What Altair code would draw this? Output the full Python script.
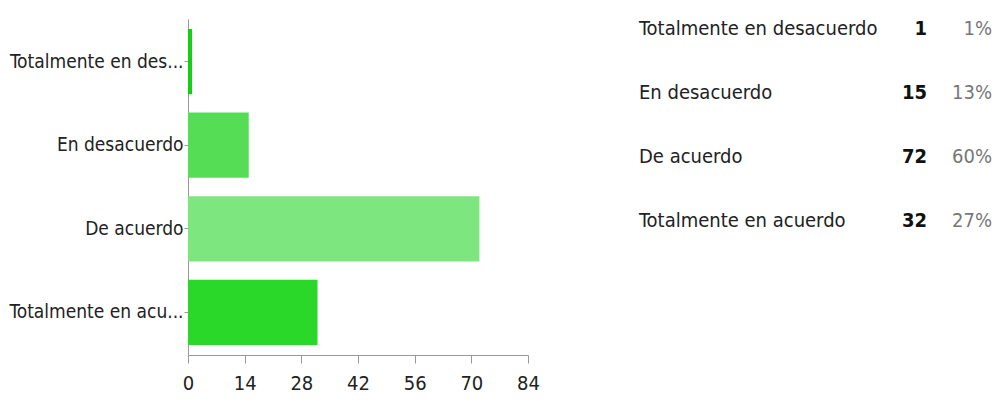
import altair as alt
import pandas as pd

categories = ["Totalmente en desacuerdo", "En desacuerdo", "De acuerdo", "Totalmente en acuerdo"]
counts = [1, 15, 72, 32]
percents = ["1%", "13%", "60%", "27%"]
colors = ["#14cf14", "#55de55", "#7ee67e", "#2ad82a"]
x_ticks = [0, 14, 28, 42, 56, 70, 84]

df = pd.DataFrame({"cat": categories, "n": counts, "pct": percents})

FONT = "Liberation Sans Narrow, Arial Narrow, DejaVu Sans Condensed, sans-serif"

bars = alt.Chart(df).mark_bar().encode(
    y=alt.Y("cat:N", sort=categories, title=None,
            scale=alt.Scale(paddingInner=0.22, paddingOuter=0.12),
            axis=alt.Axis(labelExpr="length(datum.label) > 17 ? slice(datum.label, 0, 17) + '...' : datum.label",
                          labelFont=FONT, labelFontSize=19, labelColor="#222222",
                          labelLimit=400, tickSize=4, tickColor="#999999",
                          domainColor="#999999", labelPadding=1,
                          minExtent=175, maxExtent=175)),
    x=alt.X("n:Q", title=None,
            scale=alt.Scale(domain=[0, 84], nice=False),
            axis=alt.Axis(values=x_ticks, grid=False, labelFont=FONT, labelFontSize=20,
                          labelColor="#222222", tickSize=8, tickColor="#999999",
                          domainColor="#999999", labelPadding=10, labelFlush=False)),
    color=alt.Color("cat:N", sort=categories, legend=None,
                    scale=alt.Scale(domain=categories, range=colors)),
).properties(width=340, height=336)

ysc = alt.Scale(type="point", domain=categories, range=[10, 202], padding=0)
base = alt.Chart(df).encode(y=alt.Y("cat:N", scale=ysc, axis=None))
lab = base.mark_text(align="left", baseline="middle", font=FONT, fontSize=20,
                     color="#222222").encode(x=alt.value(0), text="cat:N")
num = base.mark_text(align="right", baseline="middle", font=FONT, fontSize=20,
                     fontWeight="bold", color="#111111").encode(x=alt.value(288), text="n:Q")
pct = base.mark_text(align="right", baseline="middle", font=FONT, fontSize=20,
                     color="#777777").encode(x=alt.value(353), text="pct:N")
table = alt.layer(lab, num, pct).properties(width=353, height=336)

chart = alt.hconcat(bars, table, spacing=99).properties(
    padding={"left": 0, "top": 11, "right": 0, "bottom": 3}
).configure_view(stroke=None)

chart.save("out.html", embed_options={"renderer": "svg", "actions": False})
